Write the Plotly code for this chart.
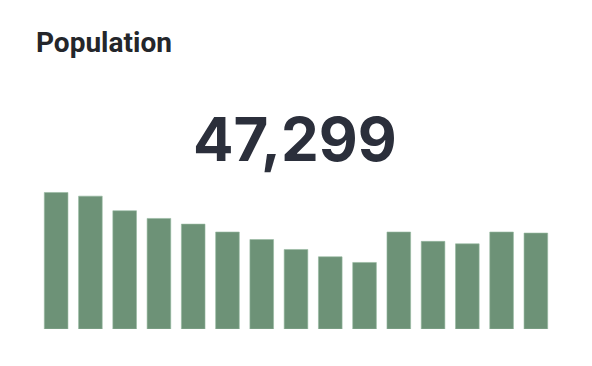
import plotly.graph_objects as go

categories = [str(i) for i in range(1, 16)]
values = [67.3, 65.5, 58.3, 54.5, 51.7, 47.8, 44.1, 39.2, 35.6, 32.8, 47.8, 43.2, 42.0, 47.8, 47.3]
title_text = "Population"
headline = "47,299"

W, H = 592, 366
ml, mr, mt, mb = 39, 39, 187, 37
ph = H - mt - mb
pw = W - ml - mr

fig = go.Figure(go.Bar(
    x=categories, y=values,
    marker=dict(color="#6d9277", line=dict(color="rgba(150,185,160,0.6)", width=1)),
    hoverinfo="skip",
))

fig.update_layout(
    width=W, height=H,
    margin=dict(l=ml, r=mr, t=mt, b=mb, pad=0),
    paper_bgcolor="white", plot_bgcolor="white",
    bargap=0.31,
    showlegend=False,
    xaxis=dict(visible=False, range=[-0.5, 14.5]),
    yaxis=dict(visible=False, range=[0, 70]),
    title=dict(text=f"<b>{title_text}</b>", x=36 / W, xanchor="left", xref="container",
               y=1 - 42 / H, yanchor="middle", yref="container",
               font=dict(family="Roboto", size=28, color="#24262b")),
    annotations=[dict(
        text=f"<b>{headline}</b>", xref="paper", yref="paper",
        x=(295 - ml) / pw, y=(H - mb - 138.5) / ph, xanchor="center", yanchor="middle",
        showarrow=False, font=dict(family="Inter", size=60, color="#2b2f3b"),
    )],
)

fig.write_html("out.html")
